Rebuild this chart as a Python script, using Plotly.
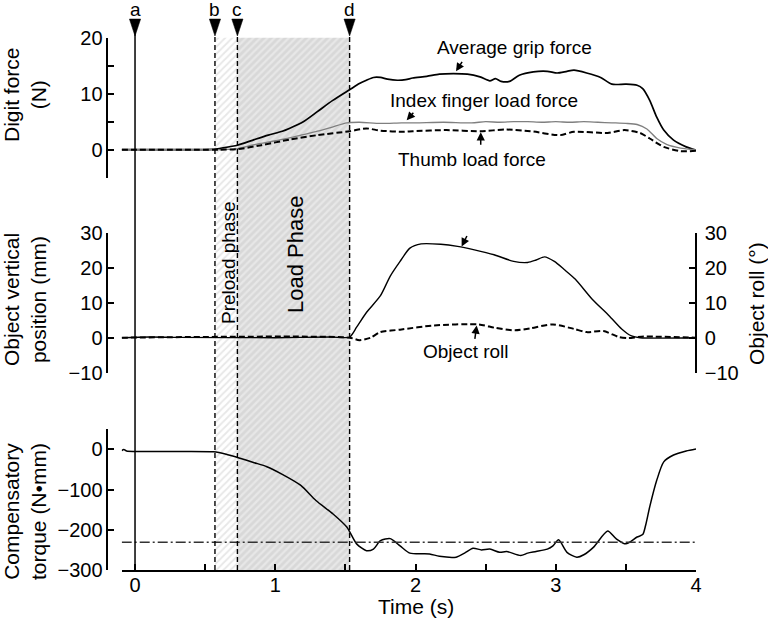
import plotly.graph_objects as go

FONT = "Liberation Sans, Arial, sans-serif"

# ---------------- data ----------------
event_times = [0.0, 0.57, 0.73, 1.53]
event_labels = ["a", "b", "c", "d"]

grip_t = [-0.095, 0.0, 0.3, 0.55, 0.62, 0.73, 0.85, 0.95, 1.05, 1.1, 1.2, 1.3, 1.41, 1.53, 1.6, 1.65,
          1.70, 1.75, 1.8, 1.87, 1.93, 1.98, 2.08, 2.17, 2.27, 2.37, 2.46, 2.53, 2.57, 2.61, 2.67, 2.74,
          2.84, 2.94, 3.01, 3.08, 3.13, 3.22, 3.32, 3.40, 3.5, 3.58, 3.62, 3.67, 3.72, 3.77, 3.84, 3.93, 4.0]
grip_f = [0, 0, 0, 0.05, 0.3, 0.8, 1.8, 2.6, 3.3, 3.8, 5.0, 6.8, 8.8, 10.7, 11.8, 12.4,
          12.9, 12.9, 12.6, 12.4, 12.5, 12.8, 13.1, 13.5, 13.6, 13.5, 13.0, 12.3, 12.7, 12.2, 12.2, 13.3,
          13.9, 14.0, 13.7, 14.0, 14.2, 13.7, 12.9, 11.7, 11.7, 11.5, 10.9, 8.8, 5.8, 3.5, 1.7, 0.5, -0.1]

index_t = [-0.095, 0.55, 0.65, 0.73, 0.85, 1.0, 1.1, 1.2, 1.3, 1.4, 1.51, 1.6, 1.75, 1.9, 2.0, 2.2,
           2.4, 2.5, 2.6, 2.7, 2.8, 2.9, 3.0, 3.1, 3.2, 3.3, 3.4, 3.5, 3.58, 3.65, 3.72, 3.79, 3.89, 4.0]
index_f = [0, 0, 0.05, 0.2, 0.9, 1.6, 2.1, 2.7, 3.3, 4.0, 4.8, 4.9, 4.7, 4.8, 4.8, 4.9,
           4.8, 5.0, 4.9, 5.0, 5.0, 4.9, 5.0, 4.9, 5.0, 4.9, 4.8, 4.7, 4.5, 3.7, 2.0, 0.95, 0.3, 0]

thumb_t = [-0.095, 0.6, 0.73, 0.9, 1.1, 1.3, 1.53, 1.65, 1.75, 1.92, 1.98, 2.22, 2.46, 2.65, 2.82,
           3.03, 3.13, 3.37, 3.49, 3.6, 3.67, 3.77, 3.89, 4.0]
thumb_f = [0, 0, 0.1, 0.8, 1.8, 2.6, 3.3, 3.8, 3.4, 3.2, 3.3, 3.5, 3.3, 3.6, 3.3,
           2.6, 3.2, 3.0, 3.5, 3.0, 2.0, 0.5, -0.25, -0.2]

pos_t = [-0.095, 0.1, 0.3, 1.0, 1.4, 1.53, 1.58, 1.65, 1.75, 1.82, 1.89, 1.96, 2.04, 2.18, 2.3, 2.42,
         2.56, 2.7, 2.8, 2.86, 2.92, 2.99, 3.06, 3.14, 3.26, 3.38, 3.47, 3.54, 3.6, 4.0]
pos_mm = [0, 0.2, 0.1, 0, 0.2, 0.2, 3, 7.2, 12, 17.6, 21.8, 25.6, 26.8, 26.7, 26.1, 25.1,
          23.7, 21.8, 21.5, 22.2, 23.1, 21.8, 19.5, 16.7, 11, 6.3, 2.5, 0.5, 0, 0]

roll_t = [-0.095, 1.53, 1.6, 1.68, 1.75, 1.89, 2.13, 2.45, 2.57, 2.71, 2.82, 2.98, 3.13, 3.22, 3.34,
          3.45, 3.52, 3.61, 4.0]
roll_deg = [0, 0, -0.7, 0, 1.6, 2.3, 3.5, 3.8, 2.8, 2.1, 2.7, 3.8, 2.5, 1.6, 1.9,
            0.2, -0.1, 0.3, 0]

torque_t = [-0.095, -0.08, -0.06, 0.0, 0.3, 0.56, 0.65, 0.73, 0.85, 0.94, 1.05, 1.18, 1.29, 1.41, 1.51,
            1.58, 1.65, 1.70, 1.75, 1.82, 1.89, 1.96, 2.1, 2.17, 2.29, 2.35, 2.41, 2.47, 2.53, 2.6,
            2.65, 2.75, 2.8, 2.86, 2.94, 2.98, 3.02, 3.08, 3.15, 3.2, 3.27, 3.37, 3.43, 3.5, 3.58,
            3.62, 3.64, 3.67, 3.72, 3.77, 3.84, 3.93, 4.0]
torque_nmm = [-3, 0, -4, -5, -5, -6, -12, -20, -33, -43, -62, -89, -127, -160, -193,
              -235, -252, -248, -227, -222, -240, -258, -260, -266, -268, -258, -246, -250, -248, -256,
              -254, -264, -258, -254, -248, -240, -225, -256, -268, -262, -243, -203, -222, -235, -218,
              -212, -190, -143, -77, -31, -14, -4, 1]

torque_ref = -231

x_tickvals = [0, 0.5, 1, 1.5, 2, 2.5, 3, 3.5, 4]
x_ticktext = ["0", "", "1", "", "2", "", "3", "", "4"]

# ---------------- layout geometry (page pixels -> paper fractions) ----------------
FW, FH = 768, 626


def px(xp):
    return xp / FW


def py(yp):
    return 1 - yp / FH


XDOM = [px(121.7), px(696)]
LEFT_POS = px(107.3)
RIGHT_POS = px(698.3)
MID_RIGHT_POS = px(696)
TOP_DOM = [py(177.7), py(37.7)]
MID_DOM = [py(372.7), py(232.7)]
BOT_DOM = [py(570), py(429.3)]
HELP_DOM = [BOT_DOM[0], 1.0]
hatch_top = (TOP_DOM[1] - HELP_DOM[0]) / (HELP_DOM[1] - HELP_DOM[0])

fig = go.Figure()

# hatched phase regions on a full-height helper axis (drawn first / underneath)
b, c, d = event_times[1], event_times[2], event_times[3]
fig.add_trace(go.Scatter(x=[b, c, c, b, b], y=[0, 0, hatch_top, hatch_top, 0], xaxis="x", yaxis="y",
                         mode="lines", line=dict(width=0), fill="toself", fillcolor="white",
                         fillpattern=dict(shape="/", bgcolor="white", fgcolor="#cfcfcf", size=5, solidity=0.35),
                         hoverinfo="skip", showlegend=False))
fig.add_trace(go.Scatter(x=[c, d, d, c, c], y=[0, 0, hatch_top, hatch_top, 0], xaxis="x", yaxis="y",
                         mode="lines", line=dict(width=0), fill="toself", fillcolor="#dadada",
                         fillpattern=dict(shape="/", bgcolor="#d8d8d8", fgcolor="#f6f6f6", size=5, solidity=0.45),
                         hoverinfo="skip", showlegend=False))

line_kw = dict(shape="spline", smoothing=0.7)
fig.add_trace(go.Scatter(x=grip_t, y=grip_f, xaxis="x", yaxis="y2", mode="lines",
                         line=dict(color="black", width=1.7, **line_kw), showlegend=False))
fig.add_trace(go.Scatter(x=index_t, y=index_f, xaxis="x", yaxis="y2", mode="lines",
                         line=dict(color="#7f7f7f", width=1.3, **line_kw), showlegend=False))
fig.add_trace(go.Scatter(x=thumb_t, y=thumb_f, xaxis="x", yaxis="y2", mode="lines",
                         line=dict(color="black", width=2, dash="6px,3px", **line_kw), showlegend=False))
fig.add_trace(go.Scatter(x=pos_t, y=pos_mm, xaxis="x", yaxis="y3", mode="lines",
                         line=dict(color="black", width=1.4, **line_kw), showlegend=False))
fig.add_trace(go.Scatter(x=roll_t, y=roll_deg, xaxis="x", yaxis="y6", mode="lines",
                         line=dict(color="black", width=2, dash="6px,3px", **line_kw), showlegend=False))
fig.add_trace(go.Scatter(x=torque_t, y=torque_nmm, xaxis="x", yaxis="y4", mode="lines",
                         line=dict(color="black", width=1.5, **line_kw), showlegend=False))
fig.add_trace(go.Scatter(x=[torque_t[0], torque_t[-1]], y=[torque_ref, torque_ref], xaxis="x", yaxis="y4",
                         mode="lines", line=dict(color="#333333", width=1.4, dash="10px,3px,2px,3px"),
                         showlegend=False))

axis_common = dict(showline=True, linecolor="black", linewidth=1.5, ticks="inside", ticklen=6,
                   tickcolor="black", tickwidth=1.5, showgrid=False, zeroline=False,
                   tickfont=dict(family=FONT, size=20, color="black"), fixedrange=True)

fig.update_layout(
    width=FW, height=FH, margin=dict(l=0, r=0, t=0, b=0, autoexpand=False),
    paper_bgcolor="white", plot_bgcolor="rgba(0,0,0,0)", showlegend=False,
    font=dict(family=FONT, color="black"),
    xaxis=dict(domain=XDOM, range=[-0.095, 4.0], anchor="y4", tickvals=x_tickvals, ticktext=x_ticktext,
               ticklabelstandoff=-4, **axis_common),
    yaxis=dict(domain=HELP_DOM, range=[0, 1], visible=False, fixedrange=True),
    yaxis2=dict(domain=TOP_DOM, range=[-5, 20], anchor="free", position=LEFT_POS,
                tickvals=[-5, 0, 5, 10, 15, 20], ticktext=["", "0", "", "10", "", "20"], **axis_common),
    yaxis3=dict(domain=MID_DOM, range=[-10, 30], anchor="free", position=LEFT_POS,
                tickvals=[-10, 0, 10, 20, 30], **axis_common),
    yaxis4=dict(domain=BOT_DOM, range=[-300, 50], anchor="free", position=LEFT_POS,
                tickvals=[-300, -200, -100, 0], **axis_common),
    yaxis5=dict(overlaying="y2", side="right", anchor="free", position=RIGHT_POS, range=[-5, 20],
                tickvals=[-5, 0, 5, 10, 15, 20], showticklabels=False, **axis_common),
    yaxis6=dict(overlaying="y3", side="right", anchor="free", position=MID_RIGHT_POS, range=[-10, 30],
                tickvals=[-10, 0, 10, 20, 30], ticklabelstandoff=4, **axis_common),
    yaxis7=dict(overlaying="y4", side="right", anchor="free", position=RIGHT_POS, range=[-300, 50],
                tickvals=[-300, -200, -100, 0], showticklabels=False, **axis_common),
)

CM = dict(xanchor="center", yanchor="middle", showarrow=False)

# event lines, triangles and letters
line_bottom = BOT_DOM[0]
tri_top, tri_bot = py(19), py(36)
for i, (t, lab) in enumerate(zip(event_times, event_labels)):
    fig.add_shape(type="line", xref="x", yref="paper", x0=t, x1=t, y0=line_bottom,
                  y1=py(30) if i == 0 else tri_bot,
                  line=dict(color="black", width=1.5 if i == 0 else 1.4, dash="solid" if i == 0 else "5px,3px"),
                  layer="above")
    fig.add_shape(type="path", xref="x", yref="paper",
                  path=f"M {t - 0.04},{tri_top} L {t + 0.04},{tri_top} L {t},{tri_bot} Z",
                  fillcolor="black", line=dict(color="black", width=0.5), layer="above")
    fig.add_annotation(x=t, xref="x", y=py(9), yref="paper", text=lab,
                       font=dict(size=19, family=FONT, color="black"), **CM)

ann_font = dict(size=19, family=FONT, color="black")
# curve labels
fig.add_annotation(x=2.709, y=18.33, xref="x", yref="y2", text="Average grip force", font=ann_font, **CM)
fig.add_annotation(x=2.488, y=8.84, xref="x", yref="y2", text="Index finger load force", font=ann_font, **CM)
fig.add_annotation(x=2.40, y=-1.79, xref="x", yref="y2", text="Thumb load force", font=ann_font, **CM)
fig.add_annotation(x=2.472, y=33.1, xref="x", yref="y3", text="Object vertical position", font=ann_font, **CM)
fig.add_annotation(x=2.359, y=-4.04, xref="x", yref="y3", text="Object roll", font=ann_font, **CM)

# arrows (tail offset in px -> head at curve)
arrows = [(2.289, 14.0, "y2", 7, -11), (1.937, 5.25, "y2", 8, -9), (2.465, 3.1, "y2", 0, 14),
          (2.329, 26.05, "y3", 6, -12), (2.436, 3.5, "y3", -2, 15)]
for ax_x, ax_y, yr, dx, dy in arrows:
    fig.add_annotation(x=ax_x, y=ax_y, xref="x", yref=yr, text="", showarrow=True, ax=dx, ay=dy,
                       arrowhead=2, arrowsize=1.1, arrowwidth=1.5, arrowcolor="black")

# phase labels
fig.add_annotation(x=0.663, xref="x", y=py(263), yref="paper", text="Preload phase", textangle=-90,
                   font=dict(size=19, family=FONT, color="black"), **CM)
fig.add_annotation(x=1.141, xref="x", y=py(255), yref="paper", text="Load Phase", textangle=-90,
                   font=dict(size=22, family=FONT, color="black"), **CM)

# axis titles
title_font = dict(size=21, family=FONT, color="black")
fig.add_annotation(x=px(25), y=py(95), xref="paper", yref="paper", text="Digit force<br>(N)",
                   textangle=-90, font=title_font, **CM)
fig.add_annotation(x=px(25), y=py(300), xref="paper", yref="paper", text="Object vertical<br>position (mm)",
                   textangle=-90, font=title_font, **CM)
fig.add_annotation(x=px(25), y=py(512), xref="paper", yref="paper", text="Compensatory<br>torque (N•mm)",
                   textangle=-90, font=title_font, **CM)
fig.add_annotation(x=px(756), y=py(304), xref="paper", yref="paper", text="Object roll (°)",
                   textangle=-90, font=title_font, **CM)
fig.add_annotation(x=px(416), y=py(606), xref="paper", yref="paper", text="Time (s)",
                   font=title_font, **CM)

fig.write_html("out.html", config={"displayModeBar": False},
               post_script="document.body.style.margin='0px';document.body.style.overflow='hidden';")
